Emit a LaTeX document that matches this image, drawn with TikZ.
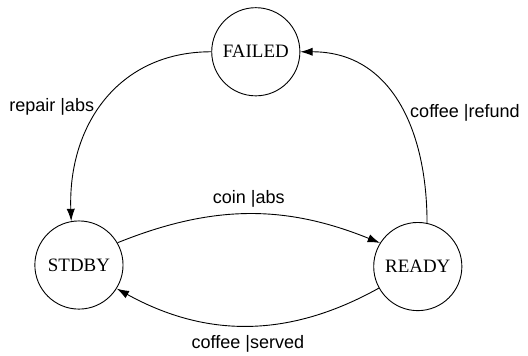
\documentclass[tikz,border=0pt]{standalone}
\usepackage{fontspec}
\setmainfont{Liberation Serif}
\setsansfont{Liberation Sans}
\usetikzlibrary{arrows.meta}
\begin{document}
\begin{tikzpicture}[>={Latex[length=2.4mm,width=1.6mm]}, line width=.5pt, state/.style={draw, circle, minimum size=1.72cm, inner sep=0pt, font=\fontsize{10.5}{12}\selectfont}, lbl/.style={font=\sffamily}]
\useasboundingbox (0,0) rectangle (10.3,6.94);
\node[state](failed) at (4.99,5.93){FAILED};
\node[state](stdby) at (1.54,1.77){STDBY};
\node[state](ready) at (8.15,1.74){READY};
\draw[->](failed.west) to[out=180, in=92, looseness=1.1] node[pos=.53, left, lbl]{repair |abs} (stdby.100);
\draw[->](ready.78) to[out=90, in=0, looseness=1.1] node[pos=.45, right, lbl]{coffee |refund} (failed.east);
\draw[->](stdby.30) to[bend left=22] node[above, lbl]{coin |abs} (ready.148);
\draw[->](ready.209) to[bend left=29] node[below=2pt, lbl]{coffee |served} (stdby.-32);
\end{tikzpicture}
\end{document}
